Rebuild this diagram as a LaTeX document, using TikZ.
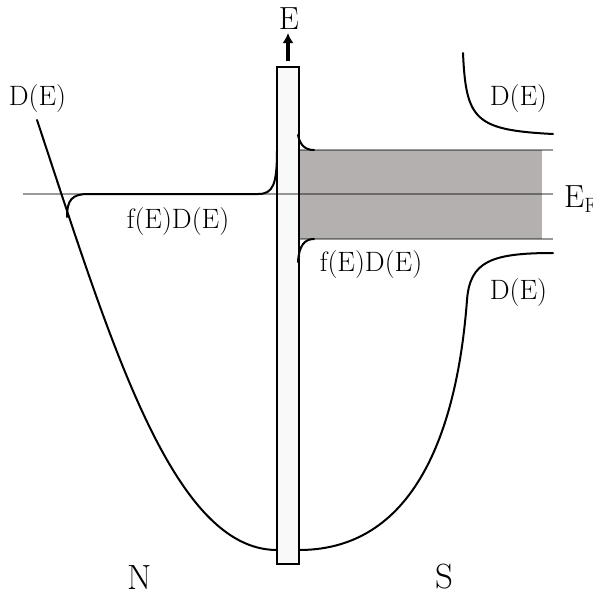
\documentclass[tikz,border=0pt]{standalone}
\usepackage{tikz}
\usetikzlibrary{arrows.meta}
\definecolor{BandGray}{RGB}{180,176,176}
\definecolor{WallWhite}{RGB}{249,249,249}

\begin{document}
\begin{tikzpicture}[x=1pt,y=-1pt,>=Latex,
    curve/.style={line width=2pt,line cap=round},
    level/.style={line width=1.8pt,black,opacity=0.4},
    lbl/.style={inner sep=0pt,font=\fontsize{28}{32}\selectfont},
    big/.style={inner sep=0pt,font=\fontsize{35}{40}\selectfont}]
      \useasboundingbox (0,0) rectangle (593,595);
      % superconducting gap
      \fill[BandGray] (298,150) rectangle (542,239);
      % barrier
      \draw[line width=2pt,fill=WallWhite] (277,67) rectangle (299,564);
      \draw[-{Latex[length=10pt,width=11pt]},line width=3.2pt] (288,61)--(288,33);
      % Fermi level and gap edges
      \draw[level] (23,194)--(553,194);
      \draw[level] (298,150)--(553,150);
      \draw[level] (298,239)--(553,239);
      % normal metal
      \draw[curve] (37,120) .. controls (110,340) and (172,550) .. (277,550);
      \draw[curve] (67,217) .. controls (67,200) and (72,194) .. (88,194)
        -- (258,194) .. controls (273,194) and (277,185) .. (277,150);
      % superconductor
      \draw[curve] (463,53) .. controls (466,120) and (475,130) .. (553,134);
      \draw[curve] (553,253) .. controls (490,253) and (470,262) .. (467,300)
        .. controls (458,420) and (420,550) .. (299,550);
      \draw[curve] (298,135) .. controls (300,145) and (305,150) .. (314,150);
      \draw[curve] (314,239) .. controls (305,239) and (299,245) .. (298,262);
      % labels
      \node[lbl] (dosN) at (37.5,98.5) {D(E)};
      \node[lbl] (fdN) at (178,221.5) {f(E)D(E)};
      \node[lbl] (dosSup) at (518.5,98.5) {D(E)};
      \node[lbl] (dosSlo) at (518.5,292.5) {D(E)};
      \node[lbl] (fdS) at (371,265) {f(E)D(E)};
      \node[big] (labN) at (140,577.5) {N};
      \node[big] (labS) at (444,577) {S};
      \node[lbl,font=\fontsize{32}{36}\selectfont] (labE) at (289,18.5) {E};
      \node[lbl,font=\fontsize{32}{36}\selectfont,anchor=base west] (labEF)
        at (564,207) {E$_{\mathrm{F}}$};
\end{tikzpicture}
\end{document}
